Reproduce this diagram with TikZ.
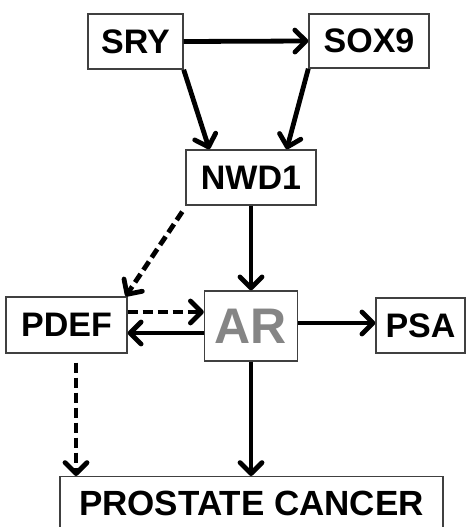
\documentclass[tikz,border=0pt]{standalone}
\usepackage{fontspec}
\setmainfont{Liberation Sans}
\usetikzlibrary{arrows.meta}
\begin{document}
\begin{tikzpicture}[x=1pt,y=-1pt,
  box/.style={draw=black!75, line width=1.4pt, fill=white, inner sep=0pt,
    font=\fontsize{34}{38}\selectfont\bfseries, text=black},
  link/.style={line width=4.8pt, -{Straight Barb[length=11pt,width=22pt,line width=4.8pt,round]}},
  maybe/.style={link, dash pattern=on 10pt off 5pt}]
\useasboundingbox (0,0) rectangle (470,527);
\clip (0,0) rectangle (470,527);

% gene / protein boxes
\node[box, minimum width=95pt, minimum height=55pt] (sry) at (135.5,41.5) {SRY};
\node[box, minimum width=120pt, minimum height=54pt] (sox) at (369,41) {SOX9};
\node[box, minimum width=130pt, minimum height=55pt] (nwd) at (251,177.5) {NWD1};
\node[box, minimum width=93pt, minimum height=70pt,
      font=\fontsize{50}{52}\selectfont\bfseries, text=black!48] (ar) at (251,326) {AR};
\node[box, minimum width=121pt, minimum height=56pt] (pdef) at (66.5,325) {PDEF};
\node[box, minimum width=89pt, minimum height=55pt] (psa) at (420.5,325.5) {PSA};
\node[box, minimum width=383pt, minimum height=70pt, anchor=north,
      font=\fontsize{35}{38}\selectfont\bfseries, text depth=16pt] (pc) at (251.5,476) {PROSTATE CANCER};

% regulatory links
\draw[link] (sry.east) -- (sox.west);
\draw[link] (sry.south east) -- ([xshift=24pt]nwd.north west);
\draw[link] (sox.south west) -- ([xshift=-30pt]nwd.north east);
\draw[link] (nwd.south) -- (ar.north);
\draw[maybe] ([xshift=-3pt,yshift=-6pt]nwd.south west) -- ([xshift=-2pt]pdef.north east);
\draw[maybe] ([yshift=13pt]pdef.east) -- ([yshift=14pt]ar.west);
\draw[link] ([yshift=-7pt]ar.west) -- ([yshift=-8pt]pdef.east);
\draw[link] ([yshift=3pt]ar.east) -- ([yshift=2.5pt]psa.west);
\draw[link] (ar.south) -- (ar.south |- pc.north);
\draw[maybe] ([xshift=9.5pt,yshift=-9pt]pdef.south) -- ([xshift=9.5pt]pdef.south |- pc.north);
\end{tikzpicture}
\end{document}
